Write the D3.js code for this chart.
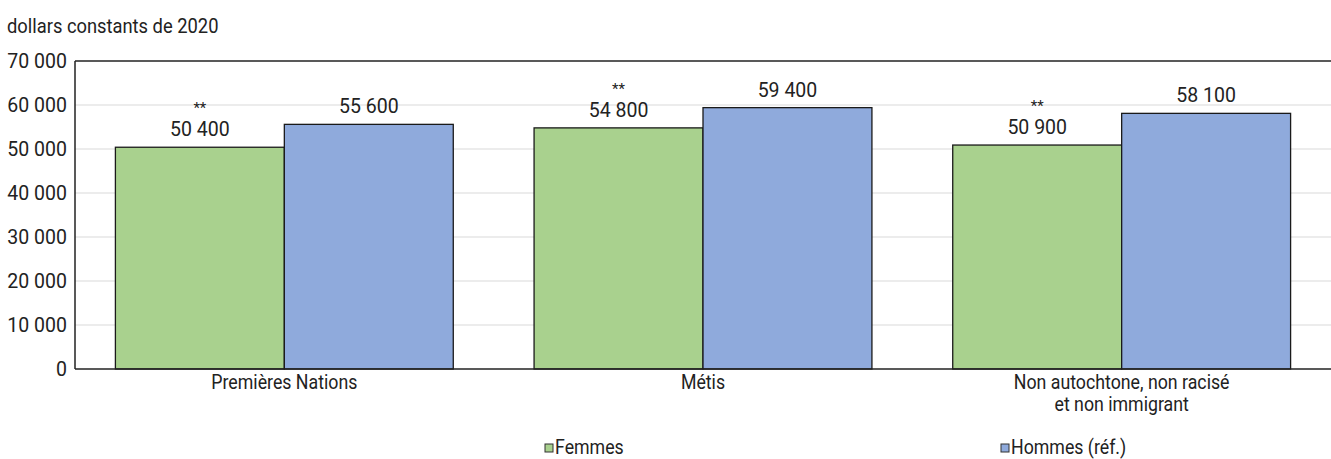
<!DOCTYPE html>
<html>
<head>
<meta charset="utf-8">
<script src="https://cdn.jsdelivr.net/npm/d3@7"></script>
<style>
  body { margin: 0; background: #fff; }
  svg { display: block; font-family: "Roboto", "Liberation Sans", sans-serif; }
</style>
</head>
<body>
<svg id="chart" width="1331" height="459"></svg>
<script>
// Median employment income by group and gender, constant 2020 dollars
const categories = [["Premières Nations"], ["Métis"], ["Non autochtone, non racisé", "et non immigrant"]];
const categoryKeys = ["Premières Nations", "Métis", "Non autochtone, non racisé et non immigrant"];
const seriesNames = ["Femmes", "Hommes (réf.)"];
const femmes = [50400, 54800, 50900];
const hommes = [55600, 59400, 58100];
const femmesFlags = ["**", "**", "**"];
const yTicks = [0, 10000, 20000, 30000, 40000, 50000, 60000, 70000];
const colors = ["#a9d18e", "#8faadc"];

const svg = d3.select("#chart");
const W = 1331;
const plotLeft = 75, plotTop = 61, plotBottom = 369;
const FS = 19.5;

const x0 = d3.scaleBand().domain(categoryKeys).range([plotLeft, W]).paddingInner(0.193).paddingOuter(0.0965);
const x1 = d3.scaleBand().domain(seriesNames).range([0, x0.bandwidth()]);
const y = d3.scaleLinear().domain([0, 70000]).range([plotBottom, plotTop]);

const fmt = v => d3.format(",")(v).replace(/,/g, " ");

// narrow the word labels a little
function condense(sel, k) {
  sel.each(function () {
    const w = this.getComputedTextLength();
    if (w > 0) d3.select(this).attr("textLength", w * k).attr("lengthAdjust", "spacingAndGlyphs");
  });
}

// gridlines
svg.append("g").selectAll("line").data(yTicks.filter(t => t > 0 && t < 70000)).join("line")
  .attr("x1", plotLeft).attr("x2", W)
  .attr("y1", d => y(d)).attr("y2", d => y(d))
  .attr("stroke", "#d9d9d9").attr("stroke-width", 1);

// y tick labels
svg.append("g").selectAll("text").data(yTicks).join("text")
  .attr("x", plotLeft - 8).attr("y", d => y(d)).attr("dy", "0.35em")
  .attr("text-anchor", "end").attr("font-size", FS).attr("fill", "#222")
  .text(d => fmt(d));

// unit label
svg.append("text").attr("x", 7).attr("y", 33).attr("font-size", FS).attr("fill", "#222")
  .text("dollars constants de 2020").call(condense, 0.94);

// bars
const rows = categoryKeys.map((k, i) => ({ key: k, vals: [femmes[i], hommes[i]], flag: femmesFlags[i] }));
const groups = svg.append("g").selectAll("g").data(rows).join("g")
  .attr("transform", d => `translate(${x0(d.key)},0)`);

groups.selectAll("rect").data(d => d.vals.map((v, j) => ({ name: seriesNames[j], v, j }))).join("rect")
  .attr("x", d => x1(d.name)).attr("width", x1.bandwidth())
  .attr("y", d => y(d.v)).attr("height", d => plotBottom - y(d.v))
  .attr("fill", d => colors[d.j]).attr("stroke", "#1a1a1a").attr("stroke-width", 1.3);

// value labels
groups.selectAll("text.val").data(d => d.vals.map((v, j) => ({ name: seriesNames[j], v, j }))).join("text")
  .attr("class", "val")
  .attr("x", d => x1(d.name) + x1.bandwidth() / 2).attr("y", d => y(d.v) - 11)
  .attr("text-anchor", "middle").attr("font-size", FS).attr("fill", "#222")
  .text(d => fmt(d.v));

// significance markers above the Femmes labels
groups.append("text")
  .attr("x", x1("Femmes") + x1.bandwidth() / 2).attr("y", d => y(d.vals[0]) - 34)
  .attr("text-anchor", "middle").attr("font-size", 15).attr("fill", "#222")
  .text(d => d.flag);

// frame: top line, left line, baseline
svg.append("line").attr("x1", plotLeft).attr("x2", W).attr("y1", plotTop).attr("y2", plotTop)
  .attr("stroke", "#222").attr("stroke-width", 1.5);
svg.append("line").attr("x1", plotLeft).attr("x2", plotLeft).attr("y1", plotTop).attr("y2", plotBottom)
  .attr("stroke", "#222").attr("stroke-width", 1.5);
svg.append("line").attr("x1", plotLeft).attr("x2", W).attr("y1", plotBottom).attr("y2", plotBottom)
  .attr("stroke", "#222").attr("stroke-width", 1.5);

// category labels
svg.append("g").selectAll("text").data(categories).join("text")
  .attr("x", (d, i) => x0(categoryKeys[i]) + x0.bandwidth() / 2)
  .attr("y", plotBottom + 20)
  .attr("text-anchor", "middle").attr("font-size", FS).attr("fill", "#222")
  .each(function (d) {
    const cx = d3.select(this).attr("x");
    d3.select(this).selectAll("tspan").data(d).join("tspan")
      .attr("x", cx)
      .attr("dy", (t, k) => k === 0 ? 0 : 22)
      .text(t => t)
      .call(condense, 0.91);
  });

// legend
const legendX = [545, 1001];
const legend = svg.append("g").selectAll("g").data(seriesNames).join("g")
  .attr("transform", (d, i) => `translate(${legendX[i]},447)`);
legend.append("rect").attr("x", 0).attr("y", -3).attr("width", 8).attr("height", 8)
  .attr("fill", (d, i) => colors[i]).attr("stroke", "#333").attr("stroke-width", 1);
legend.append("text").attr("x", 10).attr("y", 0).attr("dy", "0.35em")
  .attr("font-size", FS).attr("fill", "#222").text(d => d).call(condense, 0.91);
</script>
</body>
</html>
